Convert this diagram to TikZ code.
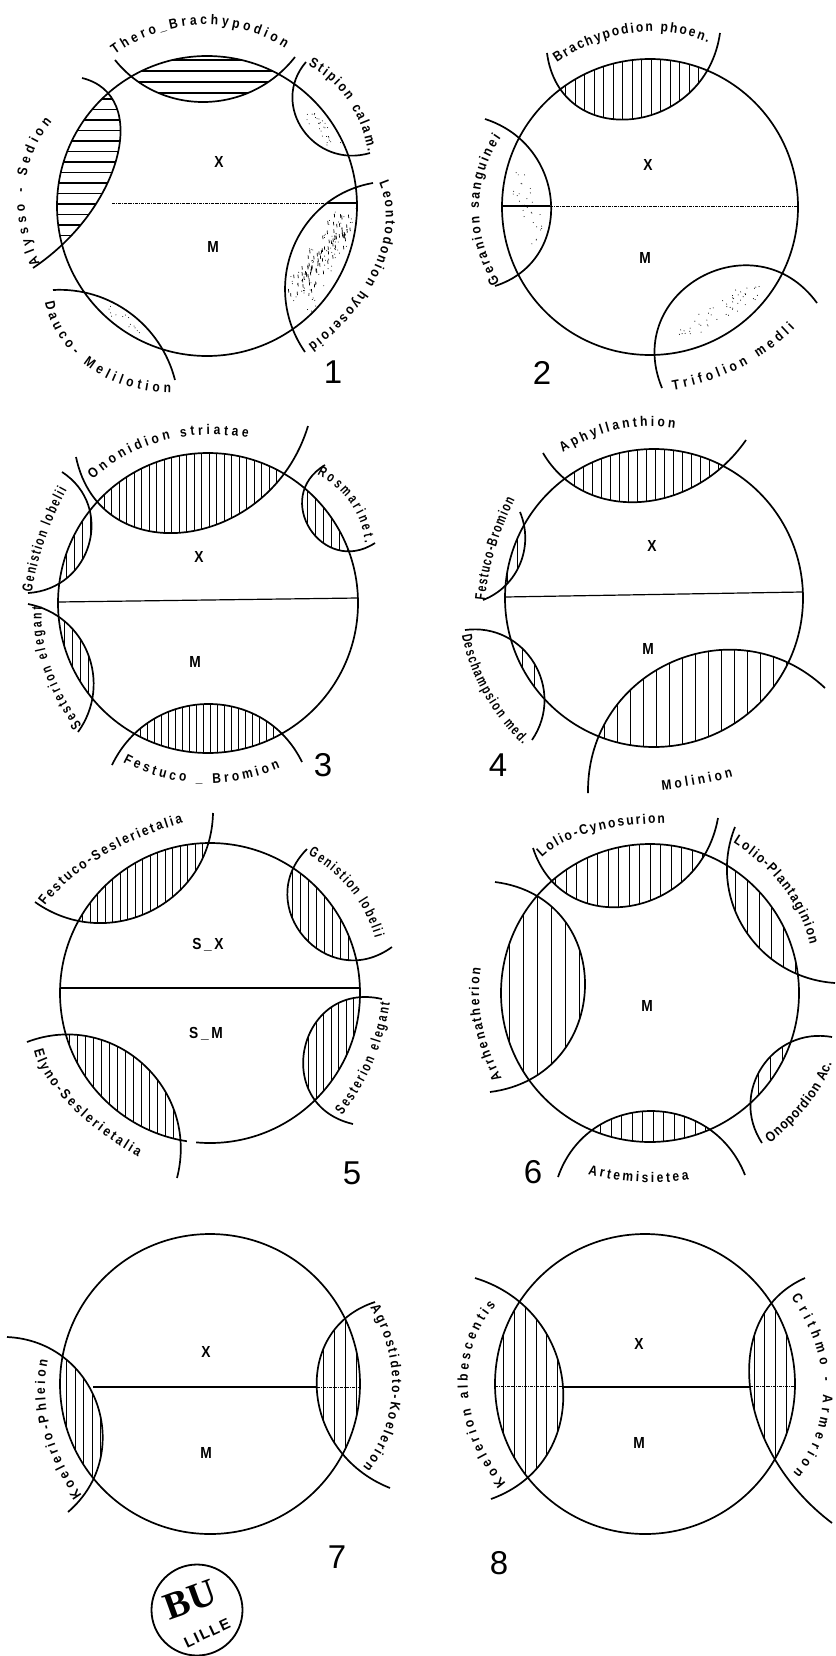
\documentclass[tikz,border=0pt]{standalone}
\usepackage{fontspec}
\setmainfont{Liberation Sans}
\newfontfamily\stampfont{Liberation Serif}
\newfontfamily\stamplille[LetterSpace=12]{Liberation Sans}
\newfontfamily\widelbl[FakeStretch=0.86]{Liberation Sans}
\newfontfamily\tightlbl[FakeStretch=0.72]{Liberation Sans}
\usetikzlibrary{decorations.text}
\tikzset{
  rim/.style={line width=1.7pt},
  hatch/.style={line width=1pt},
  split/.style={line width=1.2pt},
  faint/.style={line width=0.8pt, densely dash dot},
  zone/.style={font=\widelbl\fontsize{16}{16}\selectfont\bfseries, inner sep=0pt},
  plate/.style={font=\fontsize{33}{33}\selectfont, inner sep=0pt}
}
\newcommand{\lblsize}{14}
\newcommand{\lblfam}{\widelbl}
\newcommand{\lblfont}{\lblfam\fontsize{\lblsize}{14}\selectfont\bfseries}
\def\setarc(#1,#2)(#3,#4)(#5,#6){%
  \pgfmathsetmacro\mx{(#3-(#1+#5)/2)/100}%
  \pgfmathsetmacro\my{(#4-(#2+#6)/2)/100}%
  \pgfmathsetmacro\ux{(#5-#1)/200}%
  \pgfmathsetmacro\uy{(#6-#2)/200}%
  \pgfmathsetmacro\kk{(2/3)*(1-(\mx*\mx+\my*\my)/(\ux*\ux+\uy*\uy))}%
  \coordinate (arcA) at (#1,#2);
  \coordinate (arcB) at ({#1+133.33*\mx+100*\kk*\ux},{#2+133.33*\my+100*\kk*\uy});
  \coordinate (arcC) at ({#5+133.33*\mx-100*\kk*\ux},{#6+133.33*\my-100*\kk*\uy});
  \coordinate (arcD) at (#5,#6);
  \coordinate (arcF) at ({(#1+#5)/2-300*\mx},{(#2+#6)/2-300*\my});
}
\def\panel(#1,#2,#3){%
  \def\cx{#1}\def\cy{#2}\def\rr{#3}%
  \draw[rim] (#1,#2) circle[radius=#3];
}
\def\lens(#1,#2)(#3,#4)(#5,#6)#7{%
  \setarc(#1,#2)(#3,#4)(#5,#6)
  \begin{scope}
    \clip (\cx,\cy) circle[radius=\rr];
    \clip (arcA) .. controls (arcB) and (arcC) .. (arcD) -- (arcF) -- cycle;
    #7
  \end{scope}
  \draw[rim] (arcA) .. controls (arcB) and (arcC) .. (arcD);
}
\def\lbl(#1,#2)(#3,#4)(#5,#6)#7{%
  \setarc(#1,#2)(#3,#4)(#5,#6)
  \path[decorate, decoration={text along path, text align={fit to path},
    text={|\lblfont|#7}}] (arcA) .. controls (arcB) and (arcC) .. (arcD);
}
\def\tlbl(#1,#2)(#3,#4)(#5,#6)#7{%
  \renewcommand{\lblfam}{\tightlbl}\renewcommand{\lblsize}{14.5}
  \lbl(#1,#2)(#3,#4)(#5,#6){#7}
  \renewcommand{\lblfam}{\widelbl}\renewcommand{\lblsize}{14}
}
\newcommand{\vlines}[2]{\foreach \d in {-20,...,20}{
  \draw[hatch] ({\cx+#2+\d*#1},\cy-160) -- ({\cx+#2+\d*#1},\cy+160);}}
\newcommand{\hlines}[2]{\foreach \d in {-20,...,20}{
  \draw[hatch, line width=1.3pt] (\cx-160,{\cy+#2+\d*#1}) -- (\cx+160,{\cy+#2+\d*#1});}}
\def\stipple(#1,#2)(#3,#4)#5#6#7{%
  \foreach \i in {1,...,#6}{
    \pgfmathsetmacro\tt{0.5+0.5*rand}
    \pgfmathsetmacro\px{#1+\tt*(#3-#1)+#5*rand}
    \pgfmathsetmacro\py{#2+\tt*(#4-#2)+#5*rand}
    \draw[line width=0.7pt] (\px,\py) -- ++(0.3,#7);
  }
}
\begin{document}
\begin{tikzpicture}[x=1pt, y=-1pt]
  \useasboundingbox (0,0) rectangle (835,1656);
  \pgfmathsetseed{17}

  \panel(207,206,150)
  \lens(115,60)(205,102)(295,57){\hlines{11}{-3}}
  \lens(82,78)(117,157)(33,268){\hlines{10.5}{-2}}
  \lens(306,62)(303,130)(370,153){\stipple(310,112)(335,142){7}{28}{0.7}}
  \lens(373,183)(293,248)(305,352){
    \stipple(295,305)(345,215){14}{90}{0.7}
    \stipple(298,290)(345,220){11}{80}{3.5}}
  \lens(53,290)(130,313)(175,380){\stipple(105,305)(145,335){4}{14}{0.7}}
  \draw[split] (327,203) -- (357,203);
  \draw[faint] (112,203) -- (327,203);
  \lbl(115,55)(200,25)(285,48){Thero{\_}Brachypodion}
  \lbl(308,66)(347,100)(368,152){Stipion calam.}
  \lbl(379,183)(375,265)(308,345){Leontodonion hyoseroid}
  \lbl(40,263)(25,188)(52,122){Alysso - Sedion}
  \lbl(45,302)(88,367)(171,393){Dauco- Melilotion}
  \node[zone] (x1) at (219,162) {X};
  \node[zone] (m1) at (213,247) {M};
  \node[plate] (n1) at (333,372) {1};

  \panel(650,207,148)
  \lens(547,53)(633,119)(720,33){\vlines{9.5}{1}}
  \lens(485,119)(551,203)(495,286){\stipple(515,175)(540,240){9}{30}{0.7}}
  \lens(662,388)(701,277)(817,303){\stipple(680,335)(755,290){9}{50}{0.8}}
  \draw[split] (502,206) -- (550,206);
  \draw[faint] (550,206) -- (797,206);
  \lbl(557,63)(633,33)(708,43){Brachypodion phoen.}
  \lbl(500,282)(479,208)(501,138){Geranion sanguinei}
  \lbl(673,390)(740,368)(795,328){Trifolion medli}
  \node[zone] (x2) at (648,165) {X};
  \node[zone] (m2) at (645,258) {M};
  \node[plate] (n2) at (542,373) {2};

  \panel(208,603,150)
  \lens(76,457)(187,532)(308,426){\vlines{7.5}{1}}
  \lens(62,472)(89,544)(28,593){\vlines{8}{2}}
  \lens(325,465)(310,529)(375,543){\vlines{8}{3}}
  \lens(28,604)(88,654)(78,732){\vlines{8}{0}}
  \lens(112,765)(207,704)(302,762){\vlines{7}{2}}
  \draw[split] (58,602) -- (358,598);
  \lbl(93,480)(163,441)(248,438){Ononidion  striatae}
  \tlbl(32,592)(45,540)(67,490){Genistion lobelii}
  \tlbl(317,475)(350,503)(365,543){Rosmarinet.}
  \tlbl(82,725)(50,665)(42,607){Sesterion elegant}
  \lbl(123,762)(200,783)(280,768){Festuco {\_} Bromion}
  \node[zone] (x3) at (199,557) {X};
  \node[zone] (m3) at (195,662) {M};
  \node[plate] (n3) at (323,765) {3};

  \panel(654,598,149)
  \lens(543,453)(640,502)(746,440){\vlines{9}{1}}
  \lens(520,512)(520,564)(483,600){\vlines{10}{3}}
  \lens(465,630)(534,663)(532,740){\vlines{12}{0}}
  \lens(588,793)(672,662)(825,688){\vlines{13}{2}}
  \draw[split] (505,597) -- (802,592);
  \lbl(563,453)(617,430)(675,428){Aphyllanthion}
  \tlbl(485,600)(495,550)(515,500){Festuco-Bromion}
  \tlbl(462,635)(483,693)(523,745){Deschampsion med.}
  \lbl(662,790)(697,785)(733,777){Molinion}
  \node[zone] (x4) at (652,546) {X};
  \node[zone] (m4) at (648,649) {M};
  \node[plate] (n4) at (498,765) {4};

  \panel(210,993,150)
  \lens(35,902)(151,911)(213,813){\vlines{7.5}{0}}
  \lens(307,849)(304,937)(392,947){\vlines{8}{2}}
  \lens(382,999)(305,1047)(353,1124){\vlines{7.5}{1}}
  \lens(27,1042)(143,1064)(177,1178){\vlines{8}{3}}
  \fill[white] (187,1139) rectangle (196,1147);
  \draw[split] (60,988) -- (360,988);
  \lbl(45,906)(102,857)(183,823){Festuco-Seslerietalia}
  \tlbl(308,855)(350,890)(375,938){Genistion lobelii}
  \tlbl(342,1115)(373,1063)(390,1003){Sesterion elegant}
  \lbl(34,1050)(67,1103)(138,1157){Elyno-Seslerietalia}
  \node[zone] (x5) at (208,945) {S\,\_\,X};
  \node[zone] (m5) at (206,1034) {S\,\_\,M};
  \node[plate] (n5) at (352,1173) {5};

  \panel(650,993,149)
  \lens(533,848)(630,906)(718,818){\vlines{10.5}{0}}
  \lens(735,827)(745,930)(835,983){\vlines{12}{1}}
  \lens(495,882)(585,987)(490,1092){\vlines{14}{-1}}
  \lens(832,1037)(762,1067)(762,1143){\vlines{12}{0}}
  \lens(558,1177)(650,1111)(745,1175){\vlines{10.5}{3}}
  \lbl(542,858)(590,833)(665,823){Lolio-Cynosurion}
  \lbl(733,843)(783,888)(810,945){Lolio-Plantaginion}
  \lbl(502,1078)(482,1023)(481,968){Arrhenatherion}
  \lbl(770,1143)(810,1103)(832,1063){Onopordion Ac.}
  \lbl(588,1174)(638,1182)(689,1180){Artemisietea}
  \node[zone] (m6) at (647,1006) {M};
  \node[plate] (n6) at (533,1172) {6};

  \panel(210,1384,150)
  \lens(7,1337)(97,1404)(68,1512){\vlines{8.5}{1}}
  \lens(375,1302)(317,1392)(390,1488){\vlines{11}{3}}
  \draw[split] (93,1387) -- (317,1387);
  \draw[faint] (317,1387) -- (360,1387);
  \lbl(82,1495)(50,1427)(48,1360){Koelerio-Phleion}
  \lbl(370,1308)(392,1390)(363,1467){Agrostideto-Koelerion}
  \node[zone] (x7) at (206,1352) {X};
  \node[zone] (m7) at (206,1453) {M};
  \node[plate] (n7) at (337,1557) {7};

  \panel(645,1384,150)
  \lens(475,1278)(563,1387)(491,1499){\vlines{10.8}{-1}}
  \lens(805,1278)(750,1387)(832,1523){\vlines{10.8}{1}}
  \draw[split] (563,1387) -- (750,1387);
  \draw[faint] (495,1386) -- (563,1386);
  \draw[faint] (750,1386) -- (795,1386);
  \lbl(506,1483)(468,1390)(496,1305){Koelerion  albescentis}
  \lbl(791,1298)(823,1390)(793,1473){Crithmo - Armerion}
  \node[zone] (x8) at (639,1344) {X};
  \node[zone] (m8) at (639,1443) {M};
  \node[plate] (n8) at (499,1563) {8};

  \node[draw, circle, line width=1.8pt, minimum size=91pt, inner sep=0pt] (stamp) at (197,1610) {};
  \node[inner sep=0pt, rotate=20, font=\stampfont\fontsize{38}{38}\selectfont\bfseries] (bu) at (190,1600) {BU};
  \node[inner sep=0pt, rotate=25, font=\stamplille\fontsize{15}{15}\selectfont\bfseries] (lille) at (207,1633) {LILLE};
\end{tikzpicture}
\end{document}
